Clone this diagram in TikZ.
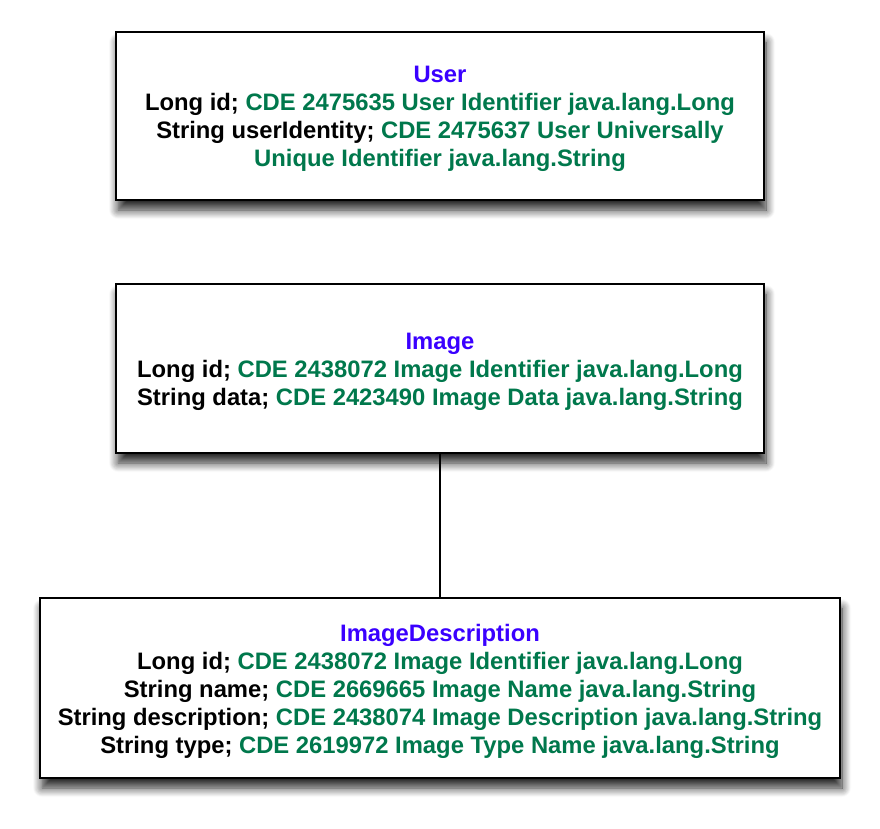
\documentclass[tikz,border=0pt]{standalone}
\usepackage{fontspec}
\setmainfont{Liberation Sans}
\usetikzlibrary{shadows.blur}
\definecolor{clsblue}{RGB}{58,0,255}
\definecolor{cdegreen}{RGB}{0,120,76}
\newcommand{\cde}[1]{\textcolor{cdegreen}{#1}}
\newcommand{\cls}[1]{\textcolor{clsblue}{#1}}
\tikzset{classbox/.style={draw, line width=1.4pt, fill=white, inner sep=0pt,
  blur shadow={shadow xshift=2pt, shadow yshift=-10pt, shadow blur radius=9pt, shadow blur steps=10, shadow opacity=85}},
  classtext/.style={align=center, inner sep=0pt, font=\fontsize{23.8}{28}\selectfont\bfseries}}

\begin{document}
\begin{tikzpicture}[x=1pt,y=-1pt]
\useasboundingbox (0,0) rectangle (880,828);
\node[classbox, minimum width=648pt, minimum height=168pt] (user) at (440,116) {};
\node[classtext] (usertext) at ([yshift=-3pt]user.center) {\cls{User}\\
Long id; \cde{CDE 2475635 User Identifier java.lang.Long}\\
String userIdentity; \cde{CDE 2475637 User Universally}\\
\cde{Unique Identifier java.lang.String}};
\node[classbox, minimum width=648pt, minimum height=169pt] (image) at (440,368.5) {};
\node[classtext] (imagetext) at ([yshift=-3pt]image.center) {\cls{Image}\\
Long id; \cde{CDE 2438072 Image Identifier java.lang.Long}\\
String data; \cde{CDE 2423490 Image Data java.lang.String}};
\node[classbox, minimum width=800pt, minimum height=180pt] (imagedesc) at (440,688) {};
\node[classtext] (imagedesctext) at ([yshift=-3pt]imagedesc.center) {\cls{ImageDescription}\\
Long id; \cde{CDE 2438072 Image Identifier java.lang.Long}\\
String name; \cde{CDE 2669665 Image Name java.lang.String}\\
String description; \cde{CDE 2438074 Image Description java.lang.String}\\
String type; \cde{CDE 2619972 Image Type Name java.lang.String}};
\draw[line width=1.2pt] (image) -- (imagedesc);
\end{tikzpicture}
\end{document}
